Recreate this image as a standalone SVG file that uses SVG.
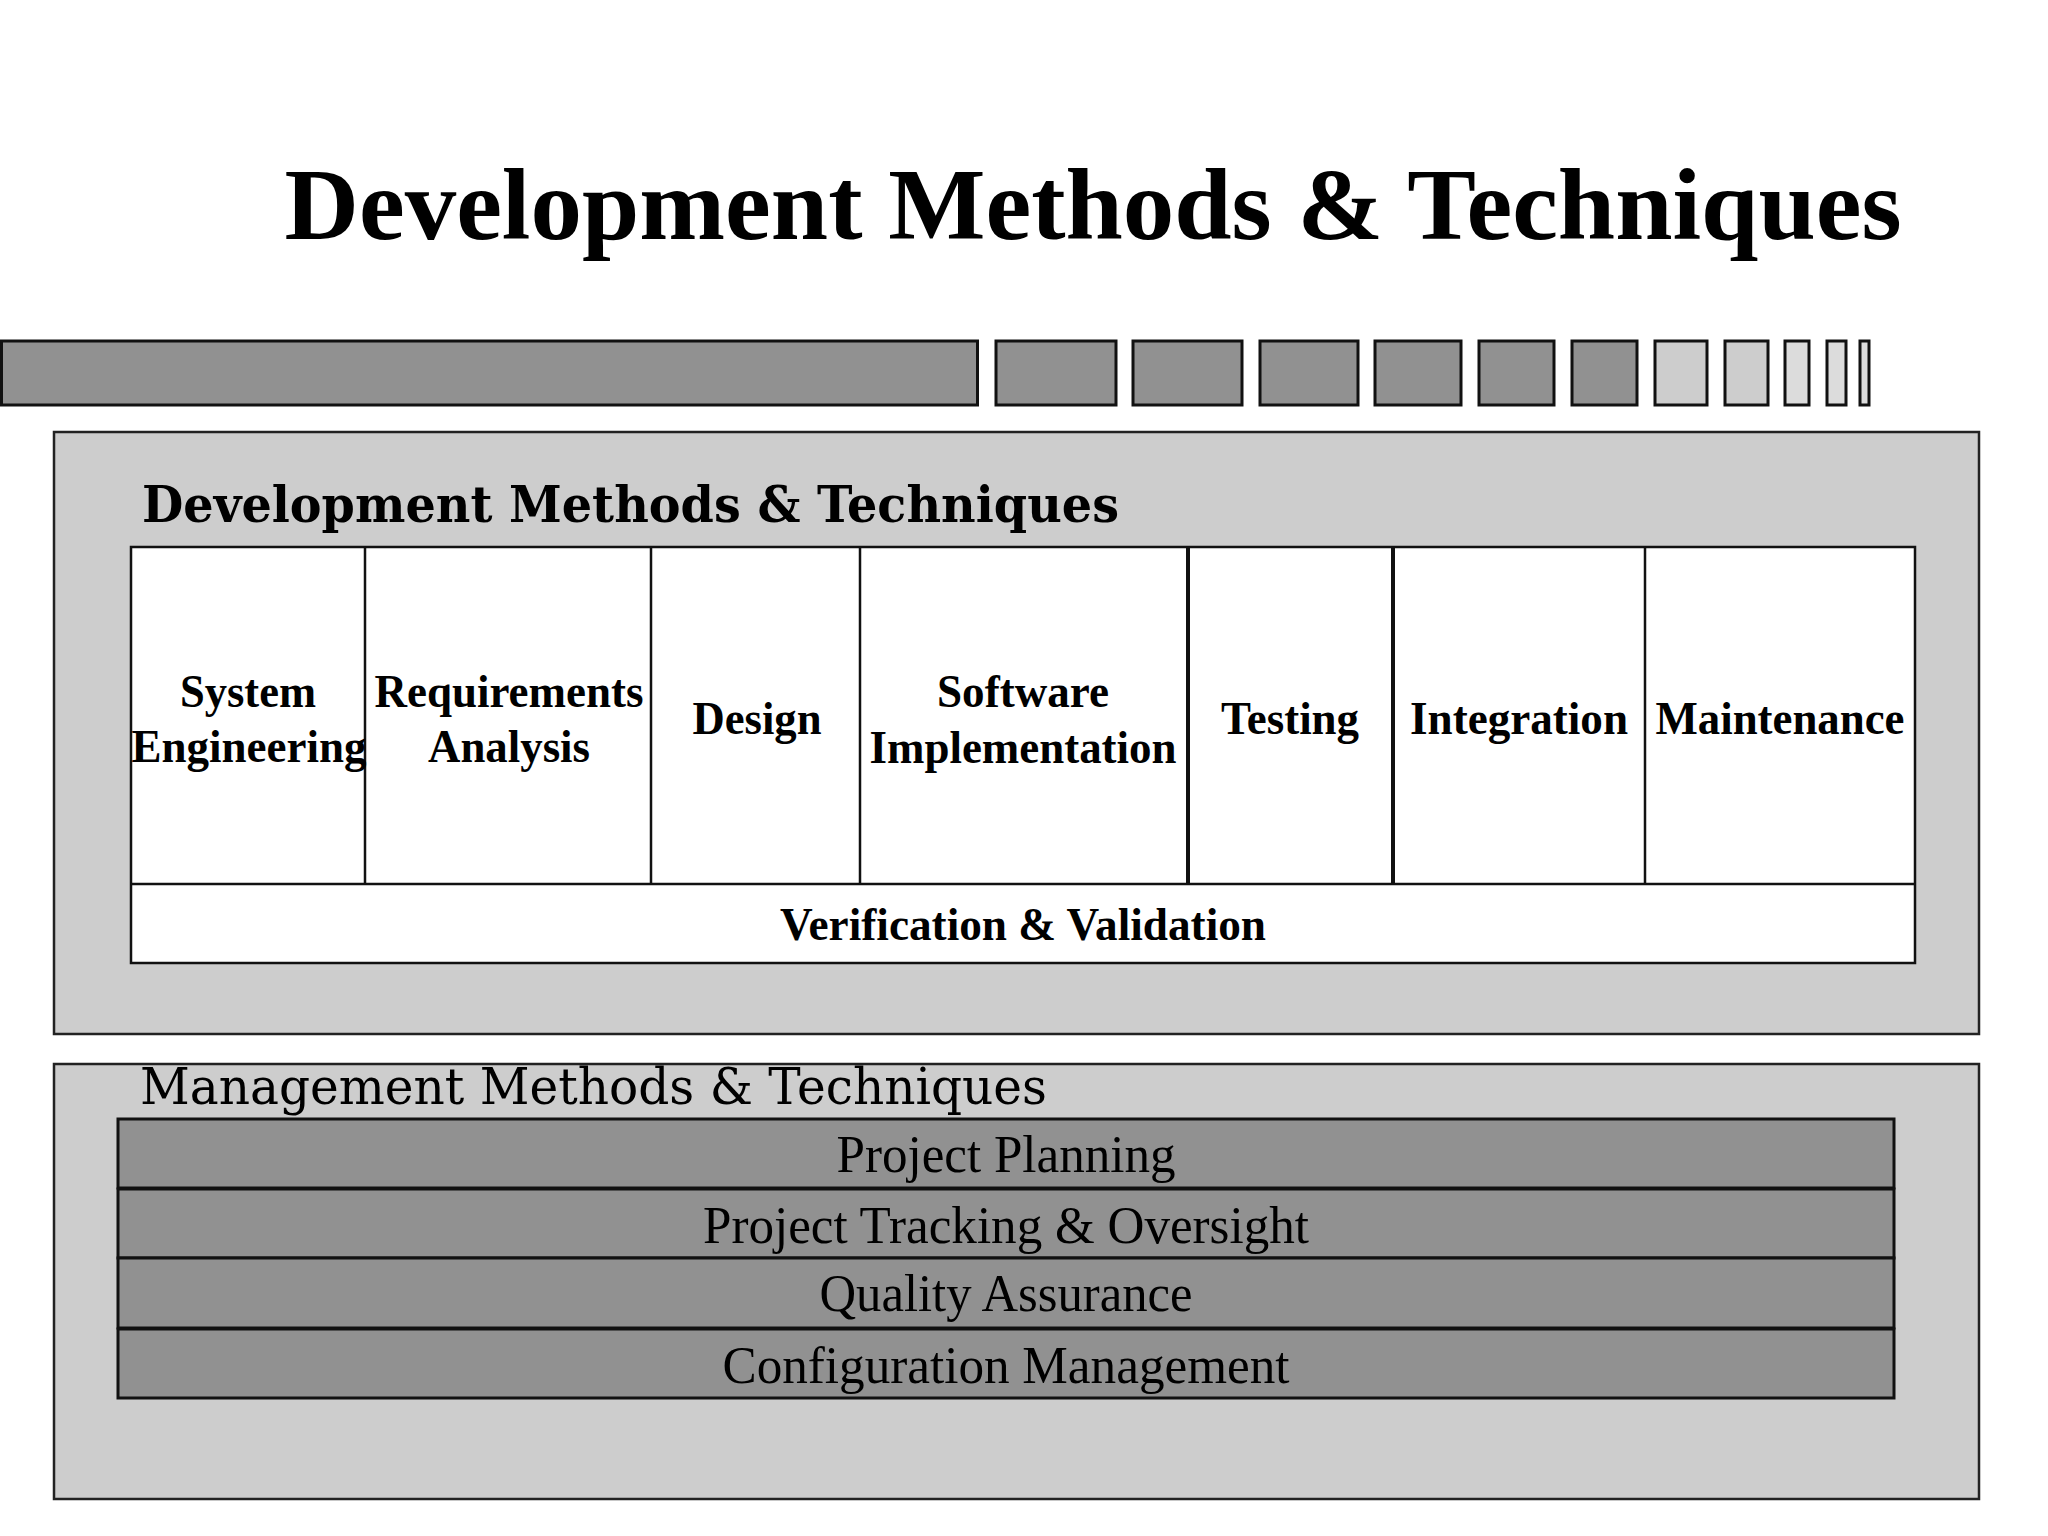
<svg xmlns="http://www.w3.org/2000/svg" width="2048" height="1536" viewBox="0 0 2048 1536">
<style>
.dark{fill:#919191;stroke:#111;stroke-width:3}
.light{fill:#cdcdcd;stroke:#111;stroke-width:3}
.lighter{fill:#dcdcdc;stroke:#111;stroke-width:3}
.panel{fill:#cdcdcd;stroke:#222;stroke-width:2.5}
.cell{fill:#fff;stroke:#111;stroke-width:2.5}
.thick{stroke:#111;stroke-width:4}
.title{font-family:"Liberation Serif",serif;font-weight:bold;font-size:102px;fill:#000}
.sub{font-family:"DejaVu Serif",serif;font-weight:bold;font-size:50px;fill:#000}
.mgmt{font-family:"DejaVu Serif",serif;font-size:50px;fill:#000}
.ct{font-family:"Liberation Serif",serif;font-weight:bold;font-size:47px;fill:#000;text-anchor:middle}
.bt{font-family:"Liberation Serif",serif;font-size:52px;fill:#000;text-anchor:middle}
.bar{fill:#919191;stroke:#111;stroke-width:3}
</style>
<rect width="2048" height="1536" fill="#fff"/>
<text class="title" x="1093" y="239" text-anchor="middle" textLength="1617" lengthAdjust="spacingAndGlyphs">Development Methods &amp; Techniques</text>
<g id="deco-bar">
<rect class="dark" x="1.5" y="341" width="976" height="64"/>
<rect class="dark" x="996" y="341" width="120" height="64"/>
<rect class="dark" x="1133" y="341" width="109" height="64"/>
<rect class="dark" x="1260" y="341" width="98" height="64"/>
<rect class="dark" x="1375" y="341" width="86" height="64"/>
<rect class="dark" x="1479" y="341" width="75" height="64"/>
<rect class="dark" x="1572" y="341" width="65" height="64"/>
<rect class="light" x="1655" y="341" width="52" height="64"/>
<rect class="light" x="1725" y="341" width="43" height="64"/>
<rect class="lighter" x="1785" y="341" width="24" height="64"/>
<rect class="lighter" x="1827" y="341" width="19" height="64"/>
<rect class="lighter" x="1860" y="341" width="9" height="64"/>
</g>
<g id="dev-panel">
<rect class="panel" x="54" y="432" width="1925" height="602"/>
<text class="sub" x="142" y="522" textLength="977" lengthAdjust="spacingAndGlyphs">Development Methods &amp; Techniques</text>
</g>
<g id="dev-table">
<rect class="cell" x="131" y="547" width="1784" height="416"/>
<line x1="131" y1="884" x2="1915" y2="884" stroke="#111" stroke-width="2.5"/>
<line x1="365" y1="547" x2="365" y2="884" stroke="#111" stroke-width="2.5"/>
<line x1="651" y1="547" x2="651" y2="884" stroke="#111" stroke-width="2.5"/>
<line x1="860" y1="547" x2="860" y2="884" stroke="#111" stroke-width="2.5"/>
<line class="thick" x1="1188" y1="547" x2="1188" y2="884"/>
<line class="thick" x1="1393" y1="547" x2="1393" y2="884"/>
<line x1="1645" y1="547" x2="1645" y2="884" stroke="#111" stroke-width="2.5"/>
</g>
<g id="node-system-engineering">
<text class="ct" x="248" y="707" textLength="136" lengthAdjust="spacingAndGlyphs">System</text>
<text class="ct" x="249" y="762" textLength="235" lengthAdjust="spacingAndGlyphs">Engineering</text>
</g>
<g id="node-requirements">
<text class="ct" x="509" y="707" textLength="269" lengthAdjust="spacingAndGlyphs">Requirements</text>
<text class="ct" x="509" y="762" textLength="162" lengthAdjust="spacingAndGlyphs">Analysis</text>
</g>
<g id="node-design">
<text class="ct" x="757" y="734" textLength="129" lengthAdjust="spacingAndGlyphs">Design</text>
</g>
<g id="node-software-implementation">
<text class="ct" x="1023" y="707" textLength="172" lengthAdjust="spacingAndGlyphs">Software</text>
<text class="ct" x="1023" y="763" textLength="307" lengthAdjust="spacingAndGlyphs">Implementation</text>
</g>
<g id="node-testing">
<text class="ct" x="1290" y="734" textLength="138" lengthAdjust="spacingAndGlyphs">Testing</text>
</g>
<g id="node-integration">
<text class="ct" x="1519" y="734" textLength="218" lengthAdjust="spacingAndGlyphs">Integration</text>
</g>
<g id="node-maintenance">
<text class="ct" x="1780" y="734" textLength="249" lengthAdjust="spacingAndGlyphs">Maintenance</text>
</g>
<g id="node-vv">
<text class="ct" x="1023" y="940" textLength="486" lengthAdjust="spacingAndGlyphs">Verification &amp; Validation</text>
</g>
<g id="mgmt-panel">
<rect class="panel" x="54" y="1064" width="1925" height="435"/>
<text class="mgmt" x="140" y="1104" textLength="907" lengthAdjust="spacingAndGlyphs">Management Methods &amp; Techniques</text>
</g>
<g id="node-project-planning">
<rect class="bar" x="118" y="1119" width="1776" height="69"/>
<text class="bt" x="1006" y="1172" textLength="339" lengthAdjust="spacingAndGlyphs">Project Planning</text>
</g>
<g id="node-tracking">
<rect class="bar" x="118" y="1189" width="1776" height="69"/>
<text class="bt" x="1006" y="1243" textLength="606" lengthAdjust="spacingAndGlyphs">Project Tracking &amp; Oversight</text>
</g>
<g id="node-qa">
<rect class="bar" x="118" y="1258" width="1776" height="70"/>
<text class="bt" x="1006" y="1311" textLength="373" lengthAdjust="spacingAndGlyphs">Quality Assurance</text>
</g>
<g id="node-cm">
<rect class="bar" x="118" y="1329" width="1776" height="69"/>
<text class="bt" x="1006" y="1383" textLength="567" lengthAdjust="spacingAndGlyphs">Configuration Management</text>
</g>
<g id="connectors"></g>
</svg>
